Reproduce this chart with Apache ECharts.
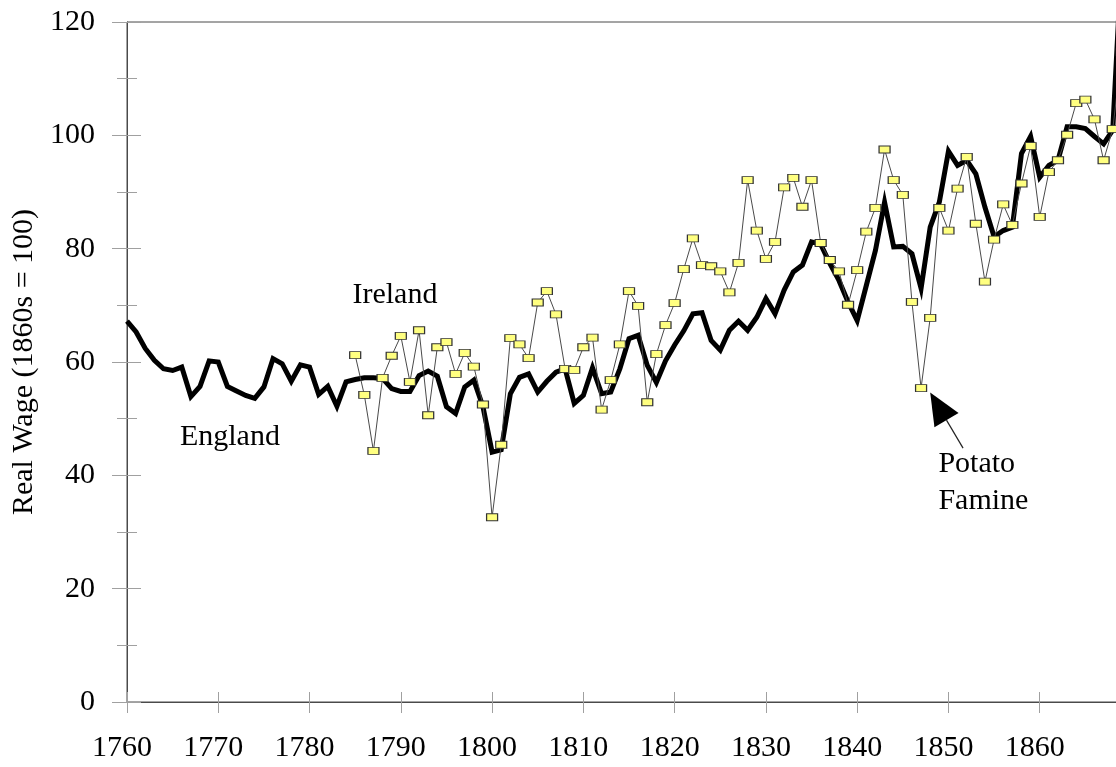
<!DOCTYPE html>
<html><head><meta charset="utf-8">
<script src="https://cdn.jsdelivr.net/npm/echarts@6/dist/echarts.min.js"></script>
<style>
html,body{margin:0;padding:0;overflow:hidden;background:#fff;width:1116px;height:767px}
#c{width:1140px;height:767px}
</style>
</head><body><div id="c"></div>
<script>
// ---- data ----
const englandStart = 1760;
const england = [
  67.2,65.3,62.4,60.3,58.8,58.5,59.1,53.9,55.7,60.2,   // 1760-1769
  60.0,55.7,54.9,54.1,53.6,55.6,60.6,59.7,56.6,59.5,   // 1770-1779
  59.1,54.3,55.7,52.2,56.5,56.9,57.2,57.2,57.1,55.3,   // 1780-1789
  54.8,54.8,57.6,58.4,57.5,52.1,50.9,55.6,56.8,52.1,   // 1790-1799
  44.1,44.5,54.4,57.3,57.9,54.7,56.6,58.2,58.8,52.7,   // 1800-1809
  54.1,59.0,54.4,54.7,58.8,64.1,64.7,59.4,56.4,60.2,   // 1810-1819
  63.0,65.5,68.5,68.7,63.8,62.1,65.6,67.2,65.6,67.9,   // 1820-1829
  71.2,68.5,72.7,75.9,77.1,81.2,80.8,77.4,74.4,70.6,   // 1830-1839
  67.3,73.5,79.7,88.2,80.3,80.4,79.1,73.0,83.8,88.2,   // 1840-1849
  97.2,94.7,95.6,93.2,87.3,82.1,83.2,83.8,96.8,99.8,   // 1850-1859
  92.6,94.7,95.6,101.5,101.5,101.2,99.8,98.5,100.9,132 // 1860-1869
];
const irelandStart = 1785;
const ireland = [
  61.2,54.2,44.3,57.2,61.1,                            // 1785-1789
  64.6,56.5,65.6,50.6,62.6,63.5,57.9,61.6,59.2,52.5,   // 1790-1799
  32.6,45.4,64.2,63.1,60.7,70.5,72.5,68.4,58.8,58.6,   // 1800-1809
  62.6,64.3,51.6,56.8,63.1,72.5,69.9,52.9,61.4,66.5,   // 1810-1819
  70.4,76.4,81.8,77.1,76.9,76.0,72.3,77.5,92.1,83.2,   // 1820-1829
  78.2,81.2,90.8,92.5,87.4,92.1,81.0,78.0,76.0,70.1,   // 1830-1839
  76.2,83.0,87.2,97.5,92.1,89.5,70.6,55.4,67.8,87.2,   // 1840-1849
  83.2,90.6,96.2,84.4,74.2,81.6,87.8,84.2,91.5,98.1,   // 1850-1859
  85.6,93.5,95.6,100.1,105.7,106.3,102.8,95.6,101.1,114.7 // 1860-1869
];
const xMin = 1760, xMax = 1870, xStep = 10;
const yMin = 0, yMax = 120, yStep = 20;
const yTitle = 'Real Wage (1860s = 100)';
const labels = [
  {text: 'Ireland', at: [1784.7, 71.8]},
  {text: 'England', at: [1765.8, 46.8]},
  {text: 'Potato', at: [1848.9, 42.0]},
  {text: 'Famine', at: [1848.9, 35.5]}
];
const arrowTip = [1848.0, 54.6];
const arrowTail = [1851.6, 44.8];

// ---- chart ----
const FONT = '"Liberation Serif","Times New Roman",serif';
const AXIS = '#4a4a4a', TICK = '#a0a0a0';
const engData = england.map((v, i) => [englandStart + i, v]);
const ireData = ireland.map((v, i) => [irelandStart + i, v]);

const chart = echarts.init(document.getElementById('c'), null, {renderer: 'canvas'});
const xBase = {type: 'value', min: xMin, max: xMax, interval: xStep, splitLine: {show: false}};
const yBase = {type: 'value', min: yMin, max: yMax, interval: yStep, splitLine: {show: false}};
chart.setOption({
  animation: false,
  backgroundColor: '#fff',
  grid: {left: 127, top: 22, right: 9, bottom: 65, show: true, borderColor: AXIS, borderWidth: 1, backgroundColor: 'transparent'},
  xAxis: [
    Object.assign({}, xBase, {
      position: 'bottom',
      axisLine: {show: true, lineStyle: {color: AXIS, width: 1}},
      axisTick: {show: true, inside: false, length: 11, lineStyle: {color: TICK}},
      axisLabel: {show: true, margin: 31, fontSize: 30, fontFamily: FONT, color: '#000', showMaxLabel: false,
        padding: [0, 10, 0, 0], formatter: v => String(v)}
    }),
    Object.assign({}, xBase, {
      position: 'bottom',
      axisLine: {show: false},
      axisTick: {show: true, inside: true, length: 10, lineStyle: {color: TICK}},
      axisLabel: {show: false}
    })
  ],
  yAxis: [
    Object.assign({}, yBase, {
      position: 'left',
      name: yTitle, nameLocation: 'middle', nameRotate: 90, nameGap: 82,
      nameTextStyle: {fontSize: 30, fontFamily: FONT, color: '#000'},
      axisLine: {show: true, lineStyle: {color: AXIS, width: 1}},
      axisTick: {show: true, inside: false, length: 15, lineStyle: {color: TICK}},
      minorTick: {show: true, splitNumber: 2, length: 10, lineStyle: {color: TICK}},
      axisLabel: {show: true, margin: 32, fontSize: 30, fontFamily: FONT, color: '#000'}
    }),
    Object.assign({}, yBase, {
      position: 'left',
      axisLine: {show: false},
      axisTick: {show: true, inside: true, length: 14, lineStyle: {color: TICK}},
      minorTick: {show: true, splitNumber: 2, length: 10, lineStyle: {color: TICK}},
      axisLabel: {show: false}
    })
  ],
  series: [
    {
      name: 'England', type: 'line', data: engData, xAxisIndex: 0, yAxisIndex: 0,
      showSymbol: false, symbol: 'none', z: 2,
      lineStyle: {color: '#000', width: 5, join: 'miter'}
    },
    {
      name: 'Ireland', type: 'line', data: ireData, xAxisIndex: 0, yAxisIndex: 0,
      symbol: 'rect', symbolSize: [11, 7], showSymbol: true, z: 3,
      lineStyle: {color: '#4a4a4a', width: 1},
      itemStyle: {color: '#ffff80', borderColor: '#333', borderWidth: 1}
    }
  ]
});

function px(p) { return chart.convertToPixel({gridIndex: 0}, p); }
const graphics = labels.map(l => {
  const p = px(l.at);
  return {type: 'text', x: p[0], y: p[1], z: 10,
    style: {text: l.text, fontSize: 30, fontFamily: FONT, fill: '#000', align: 'left', verticalAlign: 'middle'}};
});
const T = px(arrowTip), E = px(arrowTail);
const dx = T[0] - E[0], dy = T[1] - E[1], len = Math.hypot(dx, dy);
const ux = dx / len, uy = dy / len, nx = -uy, ny = ux;
const headL = 32, headW = 14;
const B = [T[0] - ux * headL, T[1] - uy * headL];
graphics.push({type: 'line', z: 10, shape: {x1: E[0], y1: E[1], x2: B[0], y2: B[1]}, style: {stroke: '#222', lineWidth: 1.2}});
graphics.push({type: 'polygon', z: 10, shape: {points: [T, [B[0] + nx * headW, B[1] + ny * headW], [B[0] - nx * headW, B[1] - ny * headW]]}, style: {fill: '#000'}});
chart.setOption({graphic: graphics});
</script>
</body></html>
